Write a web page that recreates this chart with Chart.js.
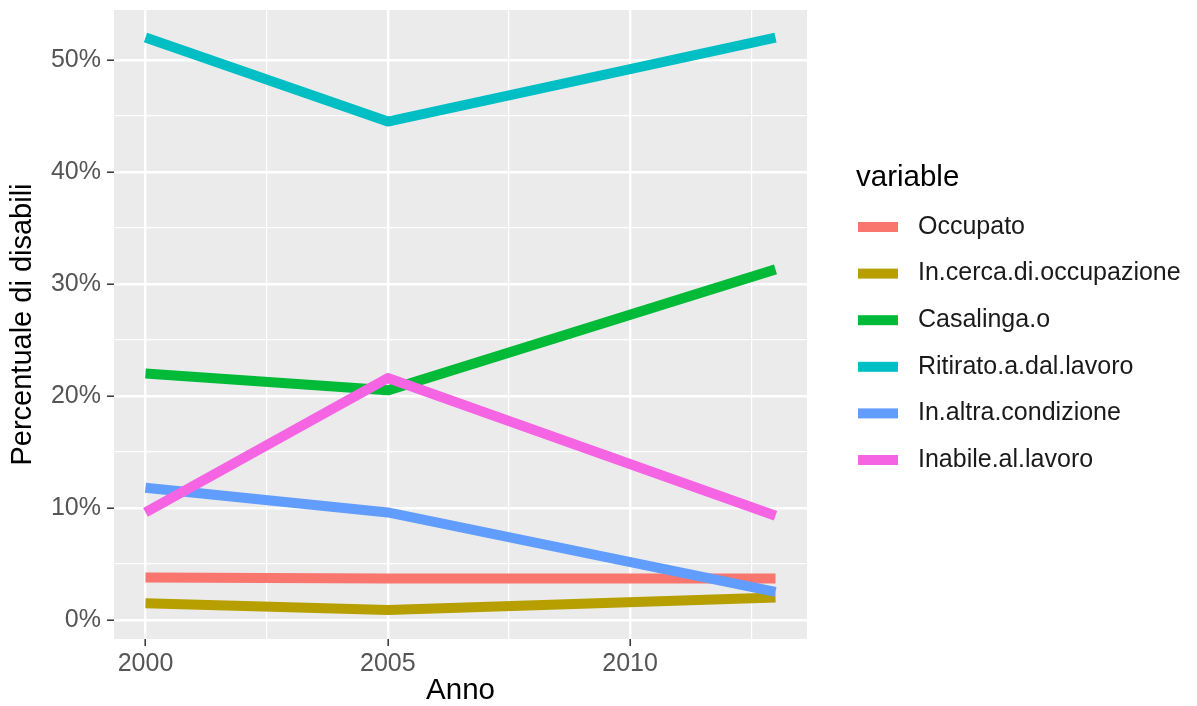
<!DOCTYPE html>
<html>
<head>
<meta charset="utf-8">
<script src="https://cdn.jsdelivr.net/npm/chart.js@4.4.1/dist/chart.umd.min.js"></script>
<style>
  html, body { margin: 0; padding: 0; background: #fff; }
  #wrap { width: 1197px; height: 706px; position: relative; }
</style>
</head>
<body>
<div id="wrap"><canvas id="myChart" width="1197" height="706"></canvas></div>
<script>
// data
const years = [2000, 2005, 2013];
const seriesNames = ['Occupato', 'In.cerca.di.occupazione', 'Casalinga.o',
                     'Ritirato.a.dal.lavoro', 'In.altra.condizione', 'Inabile.al.lavoro'];
const occupato = [3.8, 3.7, 3.7];
const inCerca = [1.5, 0.9, 2.0];
const casalinga = [22.0, 20.5, 31.3];
const ritirato = [52.0, 44.5, 52.0];
const altraCondizione = [11.8, 9.6, 2.5];
const inabile = [9.6, 21.6, 9.3];
const yTicks = [0, 10, 20, 30, 40, 50];
const xTicks = [2000, 2005, 2010];

const colors = ['#F8766D', '#B79F00', '#00BA38', '#00BFC4', '#619CFF', '#F564E3'];
const allValues = [occupato, inCerca, casalinga, ritirato, altraCondizione, inabile];
const FONT = "'Liberation Sans', Arial, sans-serif";

const datasets = allValues.map((vals, i) => ({
    label: seriesNames[i],
    data: years.map((yr, j) => ({ x: yr, y: vals[j] })),
    borderColor: colors[i],
    backgroundColor: colors[i],
    borderWidth: 10,
    borderCapStyle: 'butt',
    borderJoinStyle: 'round',
    pointRadius: 0,
    tension: 0,
    order: allValues.length - i
}));

// grey ggplot panel
const panelBg = {
    id: 'panelBg',
    beforeDraw(chart) {
        const { ctx, chartArea: a } = chart;
        ctx.save();
        ctx.fillStyle = '#EBEBEB';
        ctx.fillRect(a.left, a.top, a.right - a.left, a.bottom - a.top);
        ctx.restore();
    }
};

// legend on the right, ggplot style
const ggLegend = {
    id: 'ggLegend',
    afterDraw(chart) {
        const ctx = chart.ctx;
        ctx.save();
        ctx.textBaseline = 'middle';
        ctx.textAlign = 'left';
        ctx.fillStyle = '#000';
        ctx.font = '29.5px ' + FONT;
        ctx.fillText('variable', 856, 178);
        ctx.font = '25px ' + FONT;
        chart.data.datasets.forEach((ds, i) => {
            const y = 227 + i * 46.6;
            ctx.fillStyle = ds.borderColor;
            ctx.fillRect(858, y - 5, 40, 10);
            ctx.fillStyle = '#1a1a1a';
            ctx.fillText(ds.label, 918, y);
        });
        ctx.restore();
    }
};

const isMajor = (v, step) => Math.abs(v / step - Math.round(v / step)) < 1e-6;

new Chart(document.getElementById('myChart'), {
    type: 'line',
    data: { datasets },
    options: {
        responsive: false,
        animation: false,
        layout: { padding: { top: 10, right: 390, left: 0, bottom: 0 } },
        plugins: { legend: { display: false }, tooltip: { enabled: false } },
        scales: {
            x: {
                type: 'linear',
                min: 1999.35,
                max: 2013.65,
                afterFit(scale) {
                    scale.height = 67;
                    scale.paddingLeft = 0;
                    scale.paddingRight = 0;
                },
                border: { display: false },
                grid: {
                    color: '#FFFFFF',
                    lineWidth: ctx => isMajor(ctx.tick.value, 5) ? 2.4 : 1.2,
                    tickColor: ctx => xTicks.includes(ctx.tick.value) ? '#333333' : 'rgba(0,0,0,0)',
                    tickLength: 7,
                    tickWidth: 1.5
                },
                ticks: {
                    stepSize: 2.5,
                    includeBounds: false,
                    autoSkip: false,
                    maxRotation: 0,
                    padding: 3,
                    color: '#555555',
                    font: { family: FONT, size: 25 },
                    callback: v => xTicks.includes(v) ? String(v) : ''
                },
                title: {
                    display: true,
                    text: 'Anno',
                    color: '#000',
                    font: { family: FONT, size: 29.5, lineHeight: 1 },
                    padding: 0
                }
            },
            y: {
                min: -1.7,
                max: 54.46,
                afterFit(scale) {
                    scale.width = 114;
                    scale.paddingTop = 0;
                    scale.paddingBottom = 0;
                },
                border: { display: false },
                grid: {
                    color: '#FFFFFF',
                    lineWidth: ctx => isMajor(ctx.tick.value, 10) ? 2.4 : 1.2,
                    tickColor: ctx => yTicks.includes(ctx.tick.value) ? '#333333' : 'rgba(0,0,0,0)',
                    tickLength: 7,
                    tickWidth: 1.5
                },
                ticks: {
                    stepSize: 5,
                    includeBounds: false,
                    autoSkip: false,
                    padding: 6,
                    color: '#555555',
                    font: { family: FONT, size: 25 },
                    callback: v => yTicks.includes(v) ? v + '%' : ''
                },
                title: {
                    display: true,
                    text: 'Percentuale di disabili',
                    color: '#000',
                    font: { family: FONT, size: 29, lineHeight: 1 },
                    padding: { top: 8, bottom: 0 }
                }
            }
        }
    },
    plugins: [panelBg, ggLegend]
});
</script>
</body>
</html>
